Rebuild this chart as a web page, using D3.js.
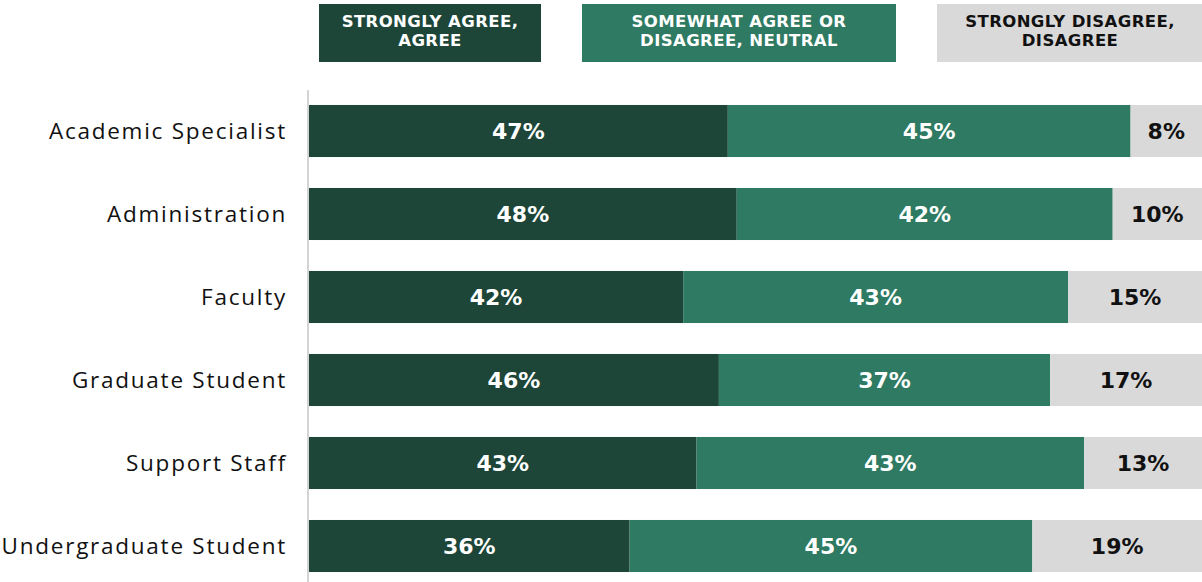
<!DOCTYPE html>
<html>
<head>
<meta charset="utf-8">
<script src="https://cdn.jsdelivr.net/npm/d3@7"></script>
<style>
  body { margin: 0; background: #fff; }
</style>
</head>
<body>
<div id="chart"></div>
<script>
// data (percent; labels show rounded values)
let groups = ["Academic Specialist", "Administration", "Faculty", "Graduate Student", "Support Staff", "Undergraduate Student"];
let agree = [46.9, 47.9, 41.9, 45.9, 43.4, 35.9];
let neutral = [45.1, 42.1, 43.1, 37.1, 43.4, 45.1];
let disagree = [8, 10, 15, 17, 13.2, 19];
let seriesNames = ["STRONGLY AGREE,|AGREE", "SOMEWHAT AGREE OR|DISAGREE, NEUTRAL", "STRONGLY DISAGREE,|DISAGREE"];
let colors = ["#1d4639", "#2e7a62", "#d9d9d9"];
let textColors = ["#ffffff", "#ffffff", "#111111"];

let w = 1202;
let h = 582;
let boldFont = "'DejaVu Sans', sans-serif";
let lightFont = "'Open Sans', 'Noto Sans', sans-serif";

let svg = d3.select("#chart")
  .append("svg")
  .attr("width", w)
  .attr("height", h);

let x = d3.scaleLinear().domain([0, 100]).range([309, 1202]);
let y = d3.scaleBand().domain(groups).range([89.5, 587.5])
  .paddingInner(0.373).paddingOuter(0.1865);

let rows = groups.map((g, i) => ({ group: g, vals: [agree[i], neutral[i], disagree[i]] }));

// stacked segments
let row = svg.selectAll("g.row")
  .data(rows)
  .join("g")
  .attr("class", "row");

row.each(function (d) {
  let g = d3.select(this);
  let start = 0;
  d.vals.forEach((v, k) => {
    g.append("rect")
      .attr("x", x(start))
      .attr("y", y(d.group))
      .attr("width", x(start + v) - x(start))
      .attr("height", y.bandwidth())
      .attr("fill", colors[k]);
    g.append("text")
      .attr("x", (x(start) + x(start + v)) / 2)
      .attr("y", y(d.group) + y.bandwidth() / 2)
      .attr("dy", "0.36em")
      .attr("text-anchor", "middle")
      .style("font-family", boldFont)
      .attr("font-size", 22)
      .attr("font-weight", 700)
      .attr("fill", textColors[k])
      .text(Math.round(v) + "%");
    start += v;
  });
});

// category axis
let yAxis = svg.append("g")
  .attr("transform", "translate(308,0)")
  .call(d3.axisLeft(y).tickSize(0).tickPadding(21));
yAxis.select(".domain").remove();
yAxis.selectAll("text")
  .attr("font-size", 22.5)
  .attr("fill", "#111")
  .style("font-family", lightFont)
  .style("letter-spacing", "1.75px")
  .attr("dy", "0.36em");

svg.append("line")
  .attr("x1", 308).attr("x2", 308)
  .attr("y1", 90).attr("y2", h)
  .attr("stroke", "#d4d4d4")
  .attr("stroke-width", 2);

// legend boxes
let legendBoxes = [[319, 541], [582, 896], [937, 1203]];
let legend = svg.selectAll("g.legend")
  .data(seriesNames)
  .join("g")
  .attr("class", "legend");

legend.append("rect")
  .attr("x", (d, i) => legendBoxes[i][0])
  .attr("y", 4)
  .attr("width", (d, i) => legendBoxes[i][1] - legendBoxes[i][0])
  .attr("height", 58)
  .attr("fill", (d, i) => colors[i]);

legend.each(function (d, i) {
  let cx = (legendBoxes[i][0] + legendBoxes[i][1]) / 2;
  d.split("|").forEach((line, j) => {
    d3.select(this).append("text")
      .attr("x", cx)
      .attr("y", 27 + j * 19)
      .attr("text-anchor", "middle")
      .style("font-family", boldFont)
      .style("letter-spacing", "0.4px")
      .attr("font-size", 16.5)
      .attr("font-weight", 700)
      .attr("fill", textColors[i])
      .text(line);
  });
});
</script>
</body>
</html>
